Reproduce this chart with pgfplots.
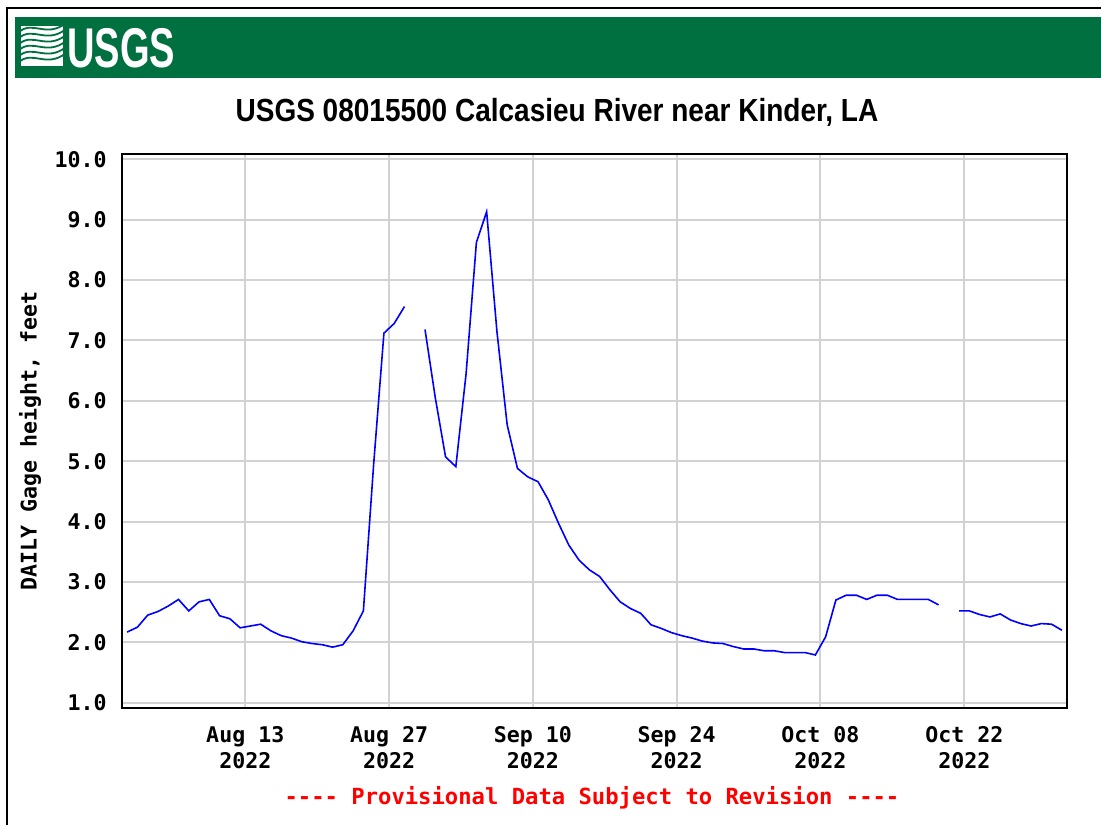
\documentclass[border=0pt]{standalone}
\usepackage{fontspec}
\setmainfont{Liberation Sans}
\newfontfamily\monof{DejaVu Sans Mono}
\usepackage{pgfplots}
\pgfplotsset{compat=1.18}
\definecolor{usgsgreen}{RGB}{0,112,65}
\definecolor{gridgray}{RGB}{210,210,210}
\pgfplotstableread{
x y
0.5 2.17
1.5 2.25
2.5 2.45
3.5 2.51
4.5 2.60
5.5 2.71
6.5 2.52
7.5 2.67
8.5 2.71
9.5 2.44
10.5 2.39
11.5 2.24
12.5 2.27
13.5 2.30
14.5 2.19
15.5 2.11
16.5 2.07
17.5 2.01
18.5 1.98
19.5 1.96
20.5 1.92
21.5 1.96
22.5 2.19
23.5 2.52
24.5 4.95
25.5 7.12
26.5 7.28
27.5 7.56
28.5 nan
29.5 7.18
30.5 6.05
31.5 5.07
32.5 4.91
33.5 6.45
34.5 8.62
35.5 9.13
36.5 7.15
37.5 5.60
38.5 4.88
39.5 4.74
40.5 4.66
41.5 4.36
42.5 3.97
43.5 3.61
44.5 3.36
45.5 3.20
46.5 3.09
47.5 2.87
48.5 2.67
49.5 2.56
50.5 2.48
51.5 2.29
52.5 2.23
53.5 2.16
54.5 2.11
55.5 2.07
56.5 2.02
57.5 1.99
58.5 1.98
59.5 1.93
60.5 1.89
61.5 1.89
62.5 1.86
63.5 1.86
64.5 1.83
65.5 1.83
66.5 1.83
67.5 1.79
68.5 2.09
69.5 2.70
70.5 2.78
71.5 2.78
72.5 2.71
73.5 2.78
74.5 2.78
75.5 2.71
76.5 2.71
77.5 2.71
78.5 2.71
79.5 2.62
80.5 nan
81.5 2.52
82.5 2.52
83.5 2.46
84.5 2.42
85.5 2.47
86.5 2.37
87.5 2.31
88.5 2.27
89.5 2.31
90.5 2.30
91.5 2.20
}\gagedata
\begin{document}
\begin{tikzpicture}
\path[use as bounding box] (0pt,0pt) rectangle (550.5pt,412.5pt);
% outer frame
\draw[black, line width=1pt] (3.5pt,0pt) -- (3.5pt,408.5pt) -- (550.5pt,408.5pt);
% green banner
\fill[usgsgreen] (7.5pt,373.5pt) rectangle (550.5pt,404pt);
% logo icon
\begin{scope}
\clip (10.5pt,379.5pt) rectangle (31.5pt,399.5pt);
\fill[white] (10.5pt,379.5pt) rectangle (31.5pt,399.5pt);
\foreach \i in {0,1,2,3,4,5} {
  \draw[usgsgreen, line width=0.9pt] (9pt,{(381+3*\i)*1pt}) .. controls (16pt,{(388+3*\i)*1pt}) and (23pt,{(378+3*\i)*1pt}) .. (33pt,{(386+3*\i)*1pt});
}
\end{scope}
\node[anchor=base west, inner sep=0pt, text=white] at (33.5pt,378.8pt)
  {\scalebox{0.68}[1]{\fontsize{28pt}{28pt}\selectfont\bfseries USGS}};
% title
\node[anchor=base, inner sep=0pt] at (278.5pt,351.8pt)
  {\scalebox{0.875}[1]{\fontsize{16pt}{16pt}\selectfont\bfseries USGS 08015500 Calcasieu River near Kinder, LA}};
\begin{axis}[
  at={(61pt,58.5pt)}, anchor=south west,
  scale only axis, width=472.5pt, height=277pt,
  xmin=0, xmax=92, ymin=0.912, ymax=10.087,
  xtick={12,26,40,54,68,82},
  xticklabels={{Aug 13\\2022},{Aug 27\\2022},{Sep 10\\2022},{Sep 24\\2022},{Oct 08\\2022},{Oct 22\\2022}},
  ytick={1,2,3,4,5,6,7,8,9,10},
  yticklabels={1.0,2.0,3.0,4.0,5.0,6.0,7.0,8.0,9.0,10.0},
  major tick length=0pt,
  grid=major,
  major grid style={line width=1pt, color=gridgray},
  axis line style={line width=1pt, black},
  ticklabel style={font=\monof\bfseries\fontsize{10.8pt}{13pt}\selectfont},
  xticklabel style={align=center, anchor=north, inner sep=0pt, yshift=-9pt},
  yticklabel style={anchor=east, inner sep=0pt, xshift=-7.5pt},
  unbounded coords=jump,
]
\addplot[blue, line width=0.8pt] table[x=x, y=y] {\gagedata};
\end{axis}
% y label
\node[rotate=90, inner sep=0pt] at (15pt,192pt)
  {\monof\bfseries\fontsize{10.8pt}{13pt}\selectfont DAILY Gage height, feet};
% provisional note
\node[anchor=base, inner sep=0pt, text={rgb,255:red,255;green,0;blue,0}] at (296pt,10.5pt)
  {\monof\bfseries\fontsize{11.1pt}{13pt}\selectfont ---- Provisional Data Subject to Revision ----};
\end{tikzpicture}
\end{document}
